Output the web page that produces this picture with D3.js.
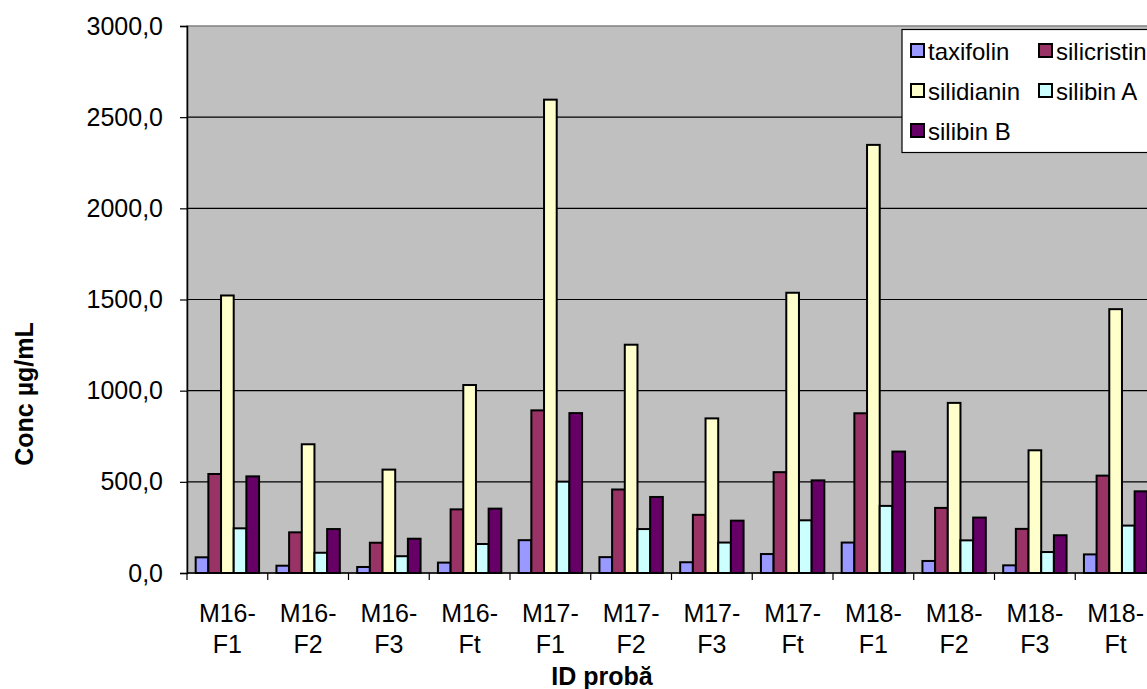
<!DOCTYPE html>
<html><head><meta charset="utf-8">
<script src="https://cdn.jsdelivr.net/npm/d3@7"></script>
<style>html,body{margin:0;padding:0;background:#fff;overflow:hidden}svg{display:block}</style>
</head><body>
<svg id="c" width="1147" height="689"></svg>
<script>
const categories = [["M16-","F1"],["M16-","F2"],["M16-","F3"],["M16-","Ft"],["M17-","F1"],["M17-","F2"],["M17-","F3"],["M17-","Ft"],["M18-","F1"],["M18-","F2"],["M18-","F3"],["M18-","Ft"]];
const seriesNames = ["taxifolin","silicristin","silidianin","silibin A","silibin B"];
const seriesColors = ["#9999FF","#993366","#FFFFCC","#CCFFFF","#660066"];
const taxifolin   = [86, 40, 33, 57, 180, 87, 59, 104, 167, 66, 42, 102];
const silicristin = [543, 223, 166, 349, 892, 458, 319, 553, 876, 357, 242, 534];
const silidianin  = [1522, 706, 567, 1031, 2596, 1252, 848, 1537, 2348, 933, 673, 1447];
const silibinA    = [245, 111, 92, 159, 501, 241, 167, 289, 368, 179, 115, 260];
const silibinB    = [530, 241, 188, 353, 877, 417, 287, 508, 666, 304, 207, 448];
const yTicks = [0, 500, 1000, 1500, 2000, 2500, 3000];
const yTitle = "Conc µg/mL";
const xTitle = "ID probă";

const seriesValues = [taxifolin, silicristin, silidianin, silibinA, silibinB];
const svg = d3.select("#c");
const font = "'Liberation Sans', Arial, sans-serif";
const L = 187, T = 26, B = 573, step = 80.75;
const R = L + step * categories.length;

const x0 = d3.scaleBand().domain(d3.range(categories.length)).range([L, R]).paddingInner(0.215).paddingOuter(0.1075);
const x1 = d3.scaleBand().domain(d3.range(seriesNames.length)).range([0, x0.bandwidth()]);
const y = d3.scaleLinear().domain([0, 3000]).range([B, T]);

// plot area
svg.append("rect").attr("x", L).attr("y", T).attr("width", R - L + 10).attr("height", B - T)
  .attr("fill", "#C0C0C0").attr("stroke", "#808080").attr("stroke-width", 1.5);

// gridlines
svg.append("g").selectAll("line").data(yTicks.filter(d => d > 0 && d < 3000)).join("line")
  .attr("x1", L).attr("x2", R + 10).attr("y1", d => y(d)).attr("y2", d => y(d))
  .attr("stroke", "#000").attr("stroke-width", 1.2);

// bars
const g = svg.append("g");
categories.forEach((c, i) => {
  seriesValues.forEach((vals, s) => {
    g.append("rect")
      .attr("x", x0(i) + x1(s))
      .attr("y", y(vals[i]))
      .attr("width", x1.bandwidth())
      .attr("height", B - y(vals[i]))
      .attr("fill", seriesColors[s]).attr("stroke", "#000").attr("stroke-width", 2);
  });
});

// y axis
const yAxis = d3.axisLeft(y).tickValues(yTicks).tickSize(7).tickPadding(17)
  .tickFormat(d => d3.format(".1f")(d).replace(".", ","));
const ya = svg.append("g").attr("transform", `translate(${L},0)`).call(yAxis);
ya.select(".domain").attr("stroke", "#000").attr("stroke-width", 1.5);
ya.selectAll(".tick line").attr("stroke", "#000").attr("stroke-width", 1.2);
ya.selectAll(".tick text").attr("font-family", font).attr("font-size", 25).attr("fill", "#000");

// x axis
const xb = d3.scaleLinear().domain([0, categories.length]).range([L, R]);
const xa = svg.append("g");
xa.append("line").attr("x1", L).attr("x2", R + 10).attr("y1", B).attr("y2", B).attr("stroke", "#000").attr("stroke-width", 1.5);
xa.selectAll("line.t").data(d3.range(categories.length + 1)).join("line").attr("class", "t")
  .attr("x1", d => xb(d)).attr("x2", d => xb(d)).attr("y1", B).attr("y2", B + 7)
  .attr("stroke", "#000").attr("stroke-width", 1.2);
const lbl = xa.selectAll("text.c").data(categories).join("text").attr("class", "c")
  .attr("font-family", font).attr("font-size", 25).attr("text-anchor", "middle").attr("fill", "#000");
lbl.append("tspan").attr("x", (d, i) => x0(i) + x0.bandwidth() / 2).attr("y", 622).text(d => d[0]);
lbl.append("tspan").attr("x", (d, i) => x0(i) + x0.bandwidth() / 2).attr("y", 653).text(d => d[1]);

// titles
svg.append("text").attr("x", 602).attr("y", 685).attr("text-anchor", "middle")
  .attr("font-family", font).attr("font-size", 25).attr("font-weight", "bold").text(xTitle);
svg.append("text").attr("transform", "translate(33,394) rotate(-90)").attr("text-anchor", "middle")
  .attr("font-family", font).attr("font-size", 25).attr("font-weight", "bold").text(yTitle);

// legend
const lg = svg.append("g");
lg.append("rect").attr("x", 902).attr("y", 29.5).attr("width", 300).attr("height", 123)
  .attr("fill", "#fff").attr("stroke", "#000").attr("stroke-width", 1.2);
const colX = [911, 1039], textX = [928, 1056];
seriesNames.forEach((n, s) => {
  const col = s % 2, row = Math.floor(s / 2);
  const cy = 51 + row * 40;
  lg.append("rect").attr("x", colX[col]).attr("y", cy - 7).attr("width", 13).attr("height", 13)
    .attr("fill", seriesColors[s]).attr("stroke", "#000").attr("stroke-width", 2);
  lg.append("text").attr("x", textX[col]).attr("y", cy + 9).attr("font-family", font).attr("font-size", 24)
    .attr("fill", "#000").text(n);
});
</script>
</body></html>
